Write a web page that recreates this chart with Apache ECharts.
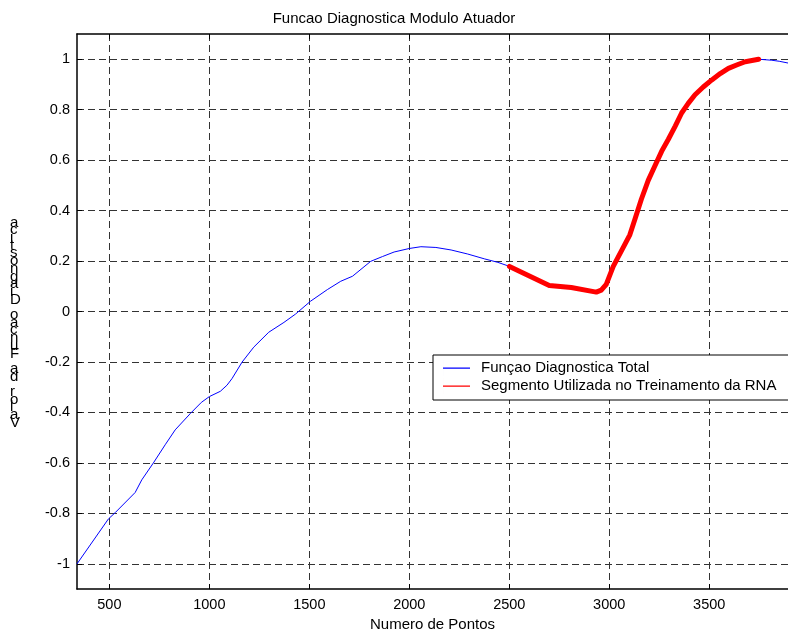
<!DOCTYPE html>
<html>
<head>
<meta charset="utf-8">
<script src="https://cdn.jsdelivr.net/npm/echarts@6/dist/echarts.min.js"></script>
<style>html,body{margin:0;padding:0;background:#fff}#c{width:788px;height:637px}</style>
</head>
<body>
<div id="c"></div>
<script>
// Data
const totalX = [338, 495, 529, 629, 662, 720, 779, 829, 905, 960, 1000, 1055, 1088, 1113, 1164, 1222, 1297, 1373, 1431, 1506, 1590, 1657, 1716, 1807, 1866, 1924, 2000, 2058, 2133, 2209, 2292, 2375, 2443, 2501, 2700, 2810, 2935, 2960, 2985, 3020, 3103, 3130, 3161, 3195, 3228, 3262, 3295, 3330, 3362, 3395, 3429, 3470, 3513, 3555, 3596, 3640, 3680, 3747, 3813, 3850, 3894];
const totalY = [-1.0, -0.822, -0.797, -0.717, -0.667, -0.60, -0.528, -0.469, -0.404, -0.36, -0.337, -0.316, -0.292, -0.266, -0.2, -0.141, -0.082, -0.043, -0.01, 0.041, 0.087, 0.12, 0.14, 0.199, 0.218, 0.236, 0.25, 0.257, 0.254, 0.244, 0.228, 0.209, 0.195, 0.179, 0.103, 0.095, 0.077, 0.085, 0.108, 0.179, 0.304, 0.37, 0.446, 0.52, 0.577, 0.635, 0.682, 0.735, 0.787, 0.825, 0.859, 0.89, 0.918, 0.943, 0.964, 0.978, 0.99, 1.0, 0.996, 0.992, 0.985];
const segX = [2501, 2700, 2810, 2935, 2960, 2985, 3020, 3103, 3130, 3161, 3195, 3228, 3262, 3295, 3330, 3362, 3395, 3429, 3470, 3513, 3555, 3596, 3640, 3680, 3747];
const segY = [0.179, 0.103, 0.095, 0.077, 0.085, 0.108, 0.179, 0.304, 0.37, 0.446, 0.52, 0.577, 0.635, 0.682, 0.735, 0.787, 0.825, 0.859, 0.89, 0.918, 0.943, 0.964, 0.978, 0.99, 1.0];
const xTicks = [500, 1000, 1500, 2000, 2500, 3000, 3500];
const yTicks = [-1, -0.8, -0.6, -0.4, -0.2, 0, 0.2, 0.4, 0.6, 0.8, 1];
const seriesNames = ['Funçao Diagnostica Total', 'Segmento Utilizada no Treinamento da RNA'];
const titleText = 'Funcao Diagnostica Modulo Atuador';
const xName = 'Numero de Pontos';
const yName = 'Valor da Funcao Diagnostica';

const FONT = 'Liberation Sans, Arial, sans-serif';
const pairs = (xs, ys) => xs.map((x, i) => [x, ys[i]]);
const gridLine = {show: true, lineStyle: {color: '#333', type: [7, 4], width: 1}};
const axLine = {show: true, onZero: false, lineStyle: {color: '#000', width: 1.5}};

const chart = echarts.init(document.getElementById('c'));
chart.setOption({
  animation: false,
  backgroundColor: '#fff',
  title: {
    text: titleText, left: 'center', top: 6,
    textStyle: {fontFamily: FONT, fontSize: 15, fontWeight: 'normal', color: '#000'}
  },
  grid: {left: 77, top: 34, width: 711, height: 559, containLabel: false},
  legend: {
    orient: 'vertical', left: 433, top: 355,
    backgroundColor: '#fff', borderColor: '#000', borderWidth: 1,
    padding: [5, 30, 6, 10], itemGap: 2, itemWidth: 27, itemHeight: 16,
    icon: 'path://M0,7.5L27,7.5L27,8.7L0,8.7ZM0,0L0.01,0L0.01,16L0,16Z',
    textStyle: {fontFamily: FONT, fontSize: 15, color: '#000', lineHeight: 16, padding: [0, 0, 0, 6]},
    data: seriesNames
  },
  xAxis: [{
    type: 'value', min: 338, max: 3894, position: 'bottom',
    axisLine: axLine,
    axisTick: {show: true, inside: true, length: 5, customValues: xTicks, lineStyle: {color: '#000'}},
    axisLabel: {customValues: xTicks, formatter: v => String(v), fontFamily: FONT, fontSize: 14.5, color: '#000', margin: 8},
    splitLine: gridLine,
    name: xName, nameLocation: 'middle', nameGap: 26,
    nameTextStyle: {fontFamily: FONT, fontSize: 15, color: '#000'}
  }, {
    type: 'value', min: 338, max: 3894, position: 'top',
    axisLine: axLine,
    axisTick: {show: true, inside: true, length: 5, customValues: xTicks, lineStyle: {color: '#000'}},
    axisLabel: {show: false},
    splitLine: {show: false}
  }],
  yAxis: {
    type: 'value', min: -1.1, max: 1.1,
    axisLine: axLine,
    axisTick: {show: true, inside: true, length: 5, customValues: yTicks, lineStyle: {color: '#000'}},
    axisLabel: {customValues: yTicks, fontFamily: FONT, fontSize: 14.5, color: '#000', margin: 7},
    splitLine: gridLine
  },
  graphic: [{
    type: 'text', left: 10, top: 215,
    style: {
      text: yName.split('').reverse().join('\n'),
      font: '15px ' + FONT, fill: '#000', lineHeight: 7.7, align: 'center'
    }
  }],
  series: [{
    name: seriesNames[0], type: 'line', xAxisIndex: 0, data: pairs(totalX, totalY),
    symbol: 'none', lineStyle: {color: '#0000ff', width: 1}, itemStyle: {color: '#0000ff'}, z: 2
  }, {
    name: seriesNames[1], type: 'line', xAxisIndex: 0, data: pairs(segX, segY),
    symbol: 'none', lineStyle: {color: '#ff0000', width: 5, cap: 'round', join: 'round'}, itemStyle: {color: '#ff0000'}, z: 3
  }]
});
</script>
</body>
</html>
